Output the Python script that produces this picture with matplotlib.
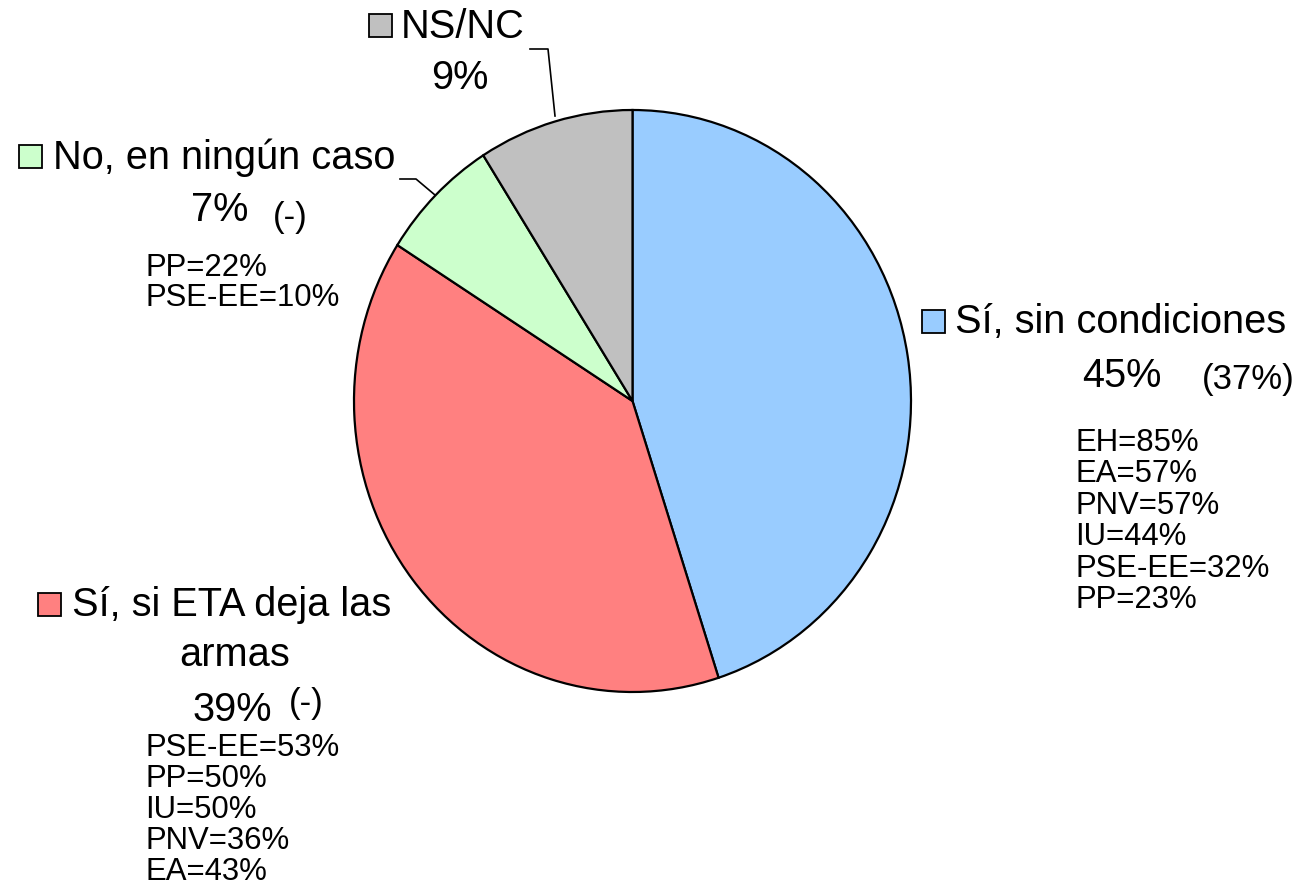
import matplotlib.pyplot as plt
from matplotlib.patches import Rectangle

plt.rcParams['font.family'] = ['Liberation Sans', 'DejaVu Sans']

# data
categories = ["Sí, sin condiciones", "Sí, si ETA deja las\narmas", "No, en ningún caso", "NS/NC"]
shares = [45, 39, 7, 9]
colors = ["#99CCFF", "#FF8080", "#CCFFCC", "#C0C0C0"]
prev_notes = ["(37%)", "(-)", "(-)", ""]
party_sin_cond = ["EH=85%", "EA=57%", "PNV=57%", "IU=44%", "PSE-EE=32%", "PP=23%"]
party_eta = ["PSE-EE=53%", "PP=50%", "IU=50%", "PNV=36%", "EA=43%"]
party_no = ["PP=22%", "PSE-EE=10%"]

W, H = 1303, 887
fig = plt.figure(figsize=(W / 100, H / 100), dpi=100)

# pie (slightly taller than wide, as in the original)
left, right, top, bottom = 354, 911, 111, 693
pax = fig.add_axes([left / W, (H - bottom) / H, (right - left) / W, (bottom - top) / H])
pax.pie(shares, colors=colors, startangle=90, counterclock=False,
        wedgeprops={"edgecolor": "black", "linewidth": 1.6, "clip_on": False})
pax.set_aspect("auto")
pax.set_xlim(-1, 1)
pax.set_ylim(-1, 1)
pax.axis("off")

# overlay in pixel coordinates for labels
ax = fig.add_axes([0, 0, 1, 1])
ax.set_xlim(0, W)
ax.set_ylim(H, 0)
ax.axis("off")

big = 28.6
mid = 25
small = 22.4


def legend_box(x, y, color):
    ax.add_patch(Rectangle((x, y), 23, 23, facecolor=color, edgecolor="black", linewidth=1.3))


# Sí, sin condiciones
legend_box(922, 311, colors[0])
ax.text(955, 322, categories[0], fontsize=big, va="center", ha="left")
ax.text(1122, 376, f"{shares[0]}%", fontsize=big, va="center", ha="center")
ax.text(1248, 380, prev_notes[0], fontsize=mid, va="center", ha="center")
for i, s in enumerate(party_sin_cond):
    ax.text(1075, 443 + i * 31.4, s, fontsize=small, va="center", ha="left")

# Sí, si ETA deja las armas
legend_box(38, 594, colors[1])
line1, line2 = categories[1].split("\n")
ax.text(72, 605, line1, fontsize=big, va="center", ha="left")
ax.text(235, 655, line2, fontsize=big, va="center", ha="center")
ax.text(232, 710, f"{shares[1]}%", fontsize=big, va="center", ha="center")
ax.text(306, 704, prev_notes[1], fontsize=mid, va="center", ha="center")
for i, s in enumerate(party_eta):
    ax.text(145, 748 + i * 31, s, fontsize=small, va="center", ha="left")

# No, en ningún caso
legend_box(19, 146, colors[2])
ax.text(53, 158, categories[2], fontsize=big, va="center", ha="left")
ax.text(220, 210, f"{shares[2]}%", fontsize=big, va="center", ha="center")
ax.text(290, 218, prev_notes[2], fontsize=mid, va="center", ha="center")
for i, s in enumerate(party_no):
    ax.text(145, 268 + i * 30, s, fontsize=small, va="center", ha="left")
ax.plot([400, 416, 435], [180, 180, 196], color="black", linewidth=1.2)

# NS/NC
legend_box(369, 15, colors[3])
ax.text(401, 27, categories[3], fontsize=big, va="center", ha="left")
ax.text(460, 78, f"{shares[3]}%", fontsize=big, va="center", ha="center")
ax.plot([530, 548, 555], [50, 50, 117], color="black", linewidth=1.2)

fig.savefig("out.png", dpi=100)
